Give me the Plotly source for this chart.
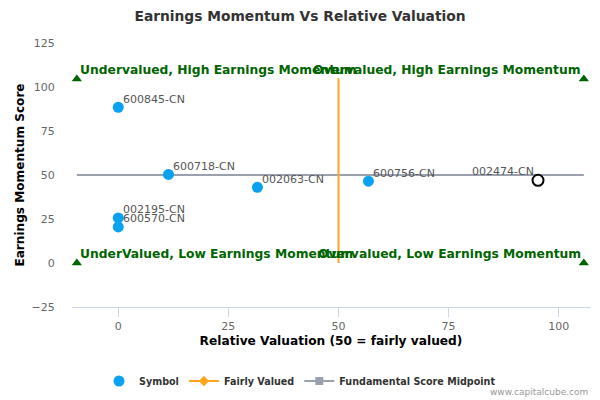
import plotly.graph_objects as go

# Data
symbols = ["600845-CN", "600718-CN", "002063-CN", "600756-CN", "002195-CN", "600570-CN"]
valuation = [0, 11.4, 31.6, 56.8, 0, 0]
momentum = [88.5, 50.3, 43, 46.5, 25.6, 20.5]

selected_symbol = ["002474-CN"]
selected_valuation = [95.3]
selected_momentum = [47]

fair_x = [50, 50]
fair_y = [0, 105]

mid_x = [-9.4, 105.7]
mid_y = [50, 50]

quad_labels_left = ["Undervalued, High Earnings Momentum", "UnderValued, Low Earnings Momentum"]
quad_left_x = [-9.4, -9.4]
quad_left_y = [104.5, 0]
quad_labels_right = ["Overvalued, High Earnings Momentum", "Overvalued, Low Earnings Momentum"]
quad_right_x = [105.7, 105.7]
quad_right_y = [104.5, 0]

x_ticks = [0, 25, 50, 75, 100]
y_ticks = [-25, 0, 25, 50, 75, 100, 125]

BLUE = "#0ba1f1"
GREEN = "#006400"
ORANGE = "#ffa51e"
GRAY = "#9aa0ae"
FONT = "DejaVu Sans"

# page body has an 8px margin; figure is sized so it fits in the 600x400 window
W, H = 592, 392

fig = go.Figure()

# Fundamental score midpoint line
fig.add_trace(go.Scatter(x=mid_x, y=mid_y, mode="lines",
                         line=dict(color=GRAY, width=2), showlegend=False, hoverinfo="skip"))
# Fairly valued line
fig.add_trace(go.Scatter(x=fair_x, y=fair_y, mode="lines",
                         line=dict(color=ORANGE, width=2), showlegend=False, hoverinfo="skip"))

# Quadrant markers
fig.add_trace(go.Scatter(x=quad_left_x + quad_right_x, y=quad_left_y + quad_right_y, mode="markers",
                         marker=dict(symbol="triangle-up", size=9, color=GREEN),
                         showlegend=False, hoverinfo="skip", cliponaxis=False))

# Symbols
fig.add_trace(go.Scatter(x=valuation, y=momentum, mode="markers", name="Symbol",
                         marker=dict(size=11, color=BLUE), showlegend=True, cliponaxis=False))
fig.add_trace(go.Scatter(x=selected_valuation, y=selected_momentum, mode="markers",
                         marker=dict(size=11, color="white", line=dict(color="black", width=2)),
                         showlegend=False, cliponaxis=False))

# Legend-only entries
fig.add_trace(go.Scatter(x=[None], y=[None], mode="lines+markers", name="Fairly Valued",
                         line=dict(color=ORANGE, width=2),
                         marker=dict(symbol="diamond", size=8, color=ORANGE)))
fig.add_trace(go.Scatter(x=[None], y=[None], mode="lines+markers", name="Fundamental Score Midpoint",
                         line=dict(color=GRAY, width=2),
                         marker=dict(symbol="square", size=8, color=GRAY)))

annotations = []
label_font = dict(family=FONT, size=11, color="#555555")
for s, xv, yv in zip(symbols, valuation, momentum):
    annotations.append(dict(text=s, x=xv, y=yv, xref="x", yref="y", showarrow=False,
                            xanchor="left", yanchor="middle", xshift=3, yshift=8, font=label_font))
for s, xv, yv in zip(selected_symbol, selected_valuation, selected_momentum):
    annotations.append(dict(text=s, x=xv, y=yv, xref="x", yref="y", showarrow=False,
                            xanchor="right", yanchor="middle", xshift=-2, yshift=9, font=label_font))
quad_font = dict(family=FONT, size=12.3, color=GREEN, weight="bold")
for s, xv, yv in zip(quad_labels_left, quad_left_x, quad_left_y):
    annotations.append(dict(text=s, x=xv, y=yv, xref="x", yref="y", showarrow=False,
                            xanchor="left", yanchor="middle", xshift=1, yshift=9.5, font=quad_font))
for s, xv, yv in zip(quad_labels_right, quad_right_x, quad_right_y):
    annotations.append(dict(text=s, x=xv, y=yv, xref="x", yref="y", showarrow=False,
                            xanchor="right", yanchor="middle", xshift=-1, yshift=9.5, font=quad_font))
annotations.append(dict(text="www.capitalcube.com", xref="paper", yref="paper",
                        x=1, y=(299 - 384) / 264, xanchor="right", yanchor="middle", showarrow=False,
                        font=dict(family=FONT, size=9, color="#999999")))

fig.update_layout(
    width=W, height=H,
    margin=dict(l=64, r=10, t=35, b=93, autoexpand=False),
    paper_bgcolor="white", plot_bgcolor="white",
    font=dict(family=FONT, color="#666666"),
    title=dict(text="<b>Earnings Momentum Vs Relative Valuation</b>", x=292 / W, xanchor="center",
               y=1 - 8 / H, yref="container", yanchor="middle",
               font=dict(family=FONT, size=13.8, color="#333333")),
    showlegend=True,
    legend=dict(orientation="h", x=292 / W, xanchor="center", xref="container",
                y=1 - 373 / H, yanchor="middle", yref="container",
                font=dict(family=FONT, size=9.6, color="#333333", weight="bold"),
                itemwidth=30),
    xaxis=dict(range=[-10.5, 107.1], tickvals=x_ticks, showgrid=False, zeroline=False,
               showline=True, linecolor="#ccd6eb", linewidth=1, automargin=False,
               ticks="outside", ticklen=9, tickcolor="#ccd6eb",
               tickfont=dict(family=FONT, size=11, color="#666666"),
               title=dict(text="<b>Relative Valuation (50 = fairly valued)</b>", standoff=4,
                          font=dict(family=FONT, size=12.2, color="#000000"))),
    yaxis=dict(range=[-25, 125], tickvals=y_ticks, showgrid=False, zeroline=False,
               showline=False, ticks="outside", ticklen=14, tickcolor="rgba(0,0,0,0)",
               automargin=False,
               tickfont=dict(family=FONT, size=11, color="#666666"),
               title=dict(text="<b>Earnings Momentum Score</b>", standoff=4,
                          font=dict(family=FONT, size=12.1, color="#000000"))),
    annotations=annotations,
)

fig.write_html("out.html")
